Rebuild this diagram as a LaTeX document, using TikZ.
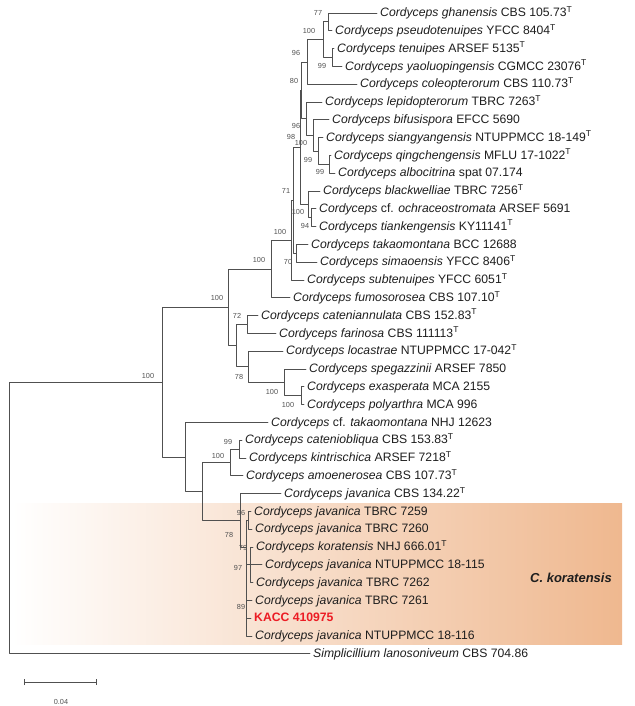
\documentclass[tikz,border=0pt]{standalone}
\usepackage{fontspec}
\setmainfont{Liberation Sans}
\usepackage{xcolor}
\usetikzlibrary{arrows.meta}
\definecolor{branch}{RGB}{80,80,80}
\definecolor{taxtext}{RGB}{30,30,30}
\definecolor{kacc}{RGB}{236,28,36}
\definecolor{clade}{RGB}{239,184,143}
\newcommand{\cord}[1]{\textit{Cordyceps #1}}
\newcommand{\tst}{\textsuperscript{T}}
\begin{document}
\begin{tikzpicture}[line cap=round,line join=round,x=1pt,y=-1pt,
    br/.style={draw=branch,line width=0.8pt},
    taxon/.style={anchor=west,inner sep=3pt,text=taxtext,text height=10pt,text depth=2.5pt,font=\fontsize{12.2}{14}\selectfont},
    bs/.style={text=branch,inner sep=0pt,font=\fontsize{7.3}{8}\selectfont}]
\useasboundingbox (0,0) rectangle (634,706);
\shade[left color=white,middle color=clade!30,right color=clade] (12,503) rectangle (622,644);
% leaves
\coordinate (L1) at (377,13);
\coordinate (L2) at (332,30.8);
\coordinate (L3) at (334,48.6);
\coordinate (L4) at (342,66.4);
\coordinate (L5) at (357,84.2);
\coordinate (L6) at (322,102);
\coordinate (L7) at (329,119.8);
\coordinate (L8) at (323,137.6);
\coordinate (L9) at (331,155.4);
\coordinate (L10) at (335,173.2);
\coordinate (L11) at (320,191);
\coordinate (L12) at (316,208.8);
\coordinate (L13) at (316,226.6);
\coordinate (L14) at (308,244.4);
\coordinate (L15) at (317,262.2);
\coordinate (L16) at (304,280);
\coordinate (L17) at (290,297.8);
\coordinate (L18) at (258,315.6);
\coordinate (L19) at (276,333.4);
\coordinate (L20) at (283,351.2);
\coordinate (L21) at (306,369);
\coordinate (L22) at (304,386.8);
\coordinate (L23) at (304,404.6);
\coordinate (L24) at (268,422.4);
\coordinate (L25) at (242,440.2);
\coordinate (L26) at (246,458);
\coordinate (L27) at (243,475.8);
\coordinate (L28) at (281,493.6);
\coordinate (L29) at (251,511.4);
\coordinate (L30) at (252,529.2);
\coordinate (L31) at (253,547);
\coordinate (L32) at (262,564.8);
\coordinate (L33) at (253,582.6);
\coordinate (L34) at (252,600.4);
\coordinate (L35) at (251,618.2);
\coordinate (L36) at (252,636);
\coordinate (L37) at (310,653.8);
% internal nodes
\coordinate (n77) at (328,21.9);
\coordinate (n99a) at (332,57.5);
\coordinate (n100a) at (323,39.7);
\coordinate (n96a) at (307,62);
\coordinate (n99b) at (329,164.3);
\coordinate (n99c) at (318,151);
\coordinate (n100b) at (313,135.4);
\coordinate (n96b) at (306,118.7);
\coordinate (n80) at (301,90.3);
\coordinate (n94) at (311,217.7);
\coordinate (n100c) at (308,204.4);
\coordinate (n98) at (300,147.3);
\coordinate (n70) at (296,253.3);
\coordinate (n71) at (293,200.3);
\coordinate (n100e) at (291,240.2);
\coordinate (n100d) at (271,269);
\coordinate (n72) at (247,324.5);
\coordinate (n100f) at (301,395.7);
\coordinate (n100g) at (284,382.4);
\coordinate (n78a) at (248,366.8);
\coordinate (nU) at (236,345.6);
\coordinate (n100h) at (228,307.3);
\coordinate (n99d) at (239,449.1);
\coordinate (n100i) at (230,462.5);
\coordinate (n96c) at (248,520.3);
\coordinate (n97) at (250,564.8);
\coordinate (nK) at (246,547);
\coordinate (n78b) at (240,520.3);
\coordinate (nV) at (202,491.4);
\coordinate (nW) at (185,456.9);
\coordinate (n100j) at (162,382.1);
\coordinate (root) at (9,518);
% branches
\draw[br] (n77) |- (L1); \draw[br] (n77) |- (L2);
\draw[br] (n99a) |- (L3); \draw[br] (n99a) |- (L4);
\draw[br] (n100a) |- (n77); \draw[br] (n100a) |- (n99a);
\draw[br] (n96a) |- (n100a); \draw[br] (n96a) |- (L5);
\draw[br] (n99b) |- (L9); \draw[br] (n99b) |- (L10);
\draw[br] (n99c) |- (L8); \draw[br] (n99c) |- (n99b);
\draw[br] (n100b) |- (L7); \draw[br] (n100b) |- (n99c);
\draw[br] (n96b) |- (L6); \draw[br] (n96b) |- (n100b);
\draw[br] (n80) |- (n96a); \draw[br] (n80) |- (n96b);
\draw[br] (n94) |- (L12); \draw[br] (n94) |- (L13);
\draw[br] (n100c) |- (L11); \draw[br] (n100c) |- (n94);
\draw[br] (n98) |- (n80); \draw[br] (n98) |- (n100c);
\draw[br] (n70) |- (L14); \draw[br] (n70) |- (L15);
\draw[br] (n71) |- (n98); \draw[br] (n71) |- (n70);
\draw[br] (n100e) |- (n71); \draw[br] (n100e) |- (L16);
\draw[br] (n100d) |- (n100e); \draw[br] (n100d) |- (L17);
\draw[br] (n72) |- (L18); \draw[br] (n72) |- (L19);
\draw[br] (n100f) |- (L22); \draw[br] (n100f) |- (L23);
\draw[br] (n100g) |- (L21); \draw[br] (n100g) |- (n100f);
\draw[br] (n78a) |- (L20); \draw[br] (n78a) |- (n100g);
\draw[br] (nU) |- (n72); \draw[br] (nU) |- (n78a);
\draw[br] (n100h) |- (n100d); \draw[br] (n100h) |- (nU);
\draw[br] (n99d) |- (L25); \draw[br] (n99d) |- (L26);
\draw[br] (n100i) |- (n99d); \draw[br] (n100i) |- (L27);
\draw[br] (n96c) |- (L29); \draw[br] (n96c) |- (L30);
\draw[br] (n97) |- (L31); \draw[br] (n97) |- (L32); \draw[br] (n97) |- (L33);
\draw[br] (nK) |- (n96c); \draw[br] (nK) |- (n97);
\draw[br] (nK) |- (L34); \draw[br] (nK) |- (L35); \draw[br] (nK) |- (L36);
\draw[br] (n78b) |- (L28); \draw[br] (n78b) |- (nK);
\draw[br] (nV) |- (n100i); \draw[br] (nV) |- (n78b);
\draw[br] (nW) |- (L24); \draw[br] (nW) |- (nV);
\draw[br] (n100j) |- (n100h); \draw[br] (n100j) |- (nW);
\draw[br] (root) |- (n100j); \draw[br] (root) |- (L37);
% taxa
\node[taxon] (t1) at (L1) {\cord{ghanensis} CBS 105.73\tst};
\node[taxon] (t2) at (L2) {\cord{pseudotenuipes} YFCC 8404\tst};
\node[taxon] (t3) at (L3) {\cord{tenuipes} ARSEF 5135\tst};
\node[taxon] (t4) at (L4) {\cord{yaoluopingensis} CGMCC 23076\tst};
\node[taxon] (t5) at (L5) {\cord{coleopterorum} CBS 110.73\tst};
\node[taxon] (t6) at (L6) {\cord{lepidopterorum} TBRC 7263\tst};
\node[taxon] (t7) at (L7) {\cord{bifusispora} EFCC 5690};
\node[taxon] (t8) at (L8) {\cord{siangyangensis} NTUPPMCC 18-149\tst};
\node[taxon] (t9) at (L9) {\cord{qingchengensis} MFLU 17-1022\tst};
\node[taxon] (t10) at (L10) {\cord{albocitrina} spat 07.174};
\node[taxon] (t11) at (L11) {\cord{blackwelliae} TBRC 7256\tst};
\node[taxon] (t12) at (L12) {\textit{Cordyceps} cf. \textit{ochraceostromata} ARSEF 5691};
\node[taxon] (t13) at (L13) {\cord{tiankengensis} KY11141\tst};
\node[taxon] (t14) at (L14) {\cord{takaomontana} BCC 12688};
\node[taxon] (t15) at (L15) {\cord{simaoensis} YFCC 8406\tst};
\node[taxon] (t16) at (L16) {\cord{subtenuipes} YFCC 6051\tst};
\node[taxon] (t17) at (L17) {\cord{fumosorosea} CBS 107.10\tst};
\node[taxon] (t18) at (L18) {\cord{cateniannulata} CBS 152.83\tst};
\node[taxon] (t19) at (L19) {\cord{farinosa} CBS 111113\tst};
\node[taxon] (t20) at (L20) {\cord{locastrae} NTUPPMCC 17-042\tst};
\node[taxon] (t21) at (L21) {\cord{spegazzinii} ARSEF 7850};
\node[taxon] (t22) at (L22) {\cord{exasperata} MCA 2155};
\node[taxon] (t23) at (L23) {\cord{polyarthra} MCA 996};
\node[taxon] (t24) at (L24) {\textit{Cordyceps} cf. \textit{takaomontana} NHJ 12623};
\node[taxon] (t25) at (L25) {\cord{cateniobliqua} CBS 153.83\tst};
\node[taxon] (t26) at (L26) {\cord{kintrischica} ARSEF 7218\tst};
\node[taxon] (t27) at (L27) {\cord{amoenerosea} CBS 107.73\tst};
\node[taxon] (t28) at (L28) {\cord{javanica} CBS 134.22\tst};
\node[taxon] (t29) at (L29) {\cord{javanica} TBRC 7259};
\node[taxon] (t30) at (L30) {\cord{javanica} TBRC 7260};
\node[taxon] (t31) at (L31) {\cord{koratensis} NHJ 666.01\tst};
\node[taxon] (t32) at (L32) {\cord{javanica} NTUPPMCC 18-115};
\node[taxon] (t33) at (L33) {\cord{javanica} TBRC 7262};
\node[taxon] (t34) at (L34) {\cord{javanica} TBRC 7261};
\node[taxon,text=kacc,font=\fontsize{12.2}{14}\selectfont\bfseries] (t35) at (L35) {KACC 410975};
\node[taxon] (t36) at (L36) {\cord{javanica} NTUPPMCC 18-116};
\node[taxon] (t37) at (L37) {\textit{Simplicillium lanosoniveum} CBS 704.86};
\node[text=taxtext,font=\fontsize{13}{15}\selectfont\bfseries\itshape] (cladename) at (571,578) {C. koratensis};
% bootstrap values
\node[bs] (b1) at (318,13) {77};
\node[bs] (b2) at (309,31) {100};
\node[bs] (b3) at (322,66) {99};
\node[bs] (b4) at (296,53) {96};
\node[bs] (b5) at (294,81) {80};
\node[bs] (b6) at (296,126) {96};
\node[bs] (b7) at (291,137) {98};
\node[bs] (b8) at (301,143) {100};
\node[bs] (b9) at (308,160) {99};
\node[bs] (b10) at (320,172) {99};
\node[bs] (b11) at (286,191) {71};
\node[bs] (b12) at (298,212) {100};
\node[bs] (b13) at (305,226) {94};
\node[bs] (b14) at (280,232) {100};
\node[bs] (b15) at (288,262) {70};
\node[bs] (b16) at (259,260) {100};
\node[bs] (b17) at (217,298) {100};
\node[bs] (b18) at (148,376) {100};
\node[bs] (b19) at (237,316) {72};
\node[bs] (b20) at (239,377) {78};
\node[bs] (b21) at (272,392) {100};
\node[bs] (b22) at (288,405) {100};
\node[bs] (b23) at (228,442) {99};
\node[bs] (b24) at (218,456) {100};
\node[bs] (b25) at (241,513) {96};
\node[bs] (b26) at (229,535) {78};
\node[bs] (b27) at (243,548) {79};
\node[bs] (b28) at (238,568) {97};
\node[bs] (b29) at (241,607) {89};
% scale bar
\coordinate (s1) at (24,682);
\coordinate (s2) at (97,682);
\draw[br,{Bar[width=6pt]}-{Bar[width=6pt]}] (s1) -- (s2);
\node[bs] (scale) at (61,702) {0.04};
\end{tikzpicture}
\end{document}
